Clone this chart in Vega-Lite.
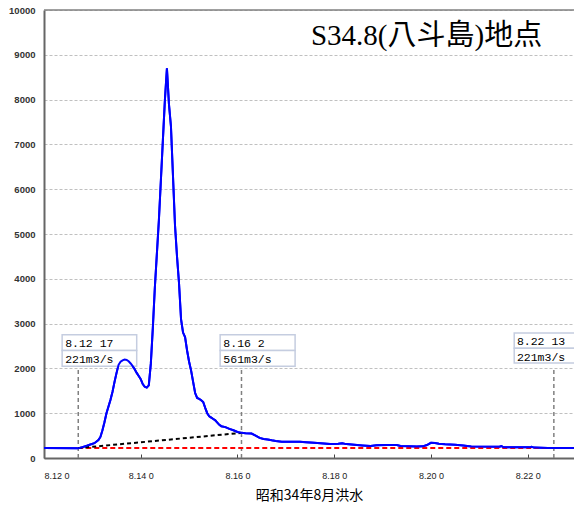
{
  "$schema": "https://vega.github.io/schema/vega-lite/v6.json",
  "width": 530,
  "height": 448,
  "autosize": {"type": "none"},
  "padding": {"left": 44, "top": 10, "right": 0, "bottom": 48},
  "background": "white",
  "config": {"view": {"stroke": null}, "font": "Liberation Sans"},
  "datasets": {
    "flow": [
      {"t": "1959-08-12T00:00", "q": 221},
      {"t": "1959-08-12T17:00", "q": 215},
      {"t": "1959-08-12T19:00", "q": 240},
      {"t": "1959-08-12T21:00", "q": 270},
      {"t": "1959-08-12T23:00", "q": 300},
      {"t": "1959-08-13T01:00", "q": 330},
      {"t": "1959-08-13T03:00", "q": 400},
      {"t": "1959-08-13T04:00", "q": 470},
      {"t": "1959-08-13T05:00", "q": 620},
      {"t": "1959-08-13T06:00", "q": 800},
      {"t": "1959-08-13T07:00", "q": 1000},
      {"t": "1959-08-13T08:00", "q": 1150},
      {"t": "1959-08-13T09:00", "q": 1300},
      {"t": "1959-08-13T10:00", "q": 1480},
      {"t": "1959-08-13T11:00", "q": 1700},
      {"t": "1959-08-13T12:00", "q": 1900},
      {"t": "1959-08-13T13:00", "q": 2080},
      {"t": "1959-08-13T14:00", "q": 2150},
      {"t": "1959-08-13T15:00", "q": 2180},
      {"t": "1959-08-13T16:00", "q": 2200},
      {"t": "1959-08-13T17:00", "q": 2190},
      {"t": "1959-08-13T18:00", "q": 2160},
      {"t": "1959-08-13T19:00", "q": 2110},
      {"t": "1959-08-13T20:00", "q": 2050},
      {"t": "1959-08-13T21:00", "q": 1980},
      {"t": "1959-08-13T22:00", "q": 1900},
      {"t": "1959-08-13T23:00", "q": 1830},
      {"t": "1959-08-14T00:00", "q": 1760},
      {"t": "1959-08-14T01:00", "q": 1650},
      {"t": "1959-08-14T02:00", "q": 1590},
      {"t": "1959-08-14T03:00", "q": 1570},
      {"t": "1959-08-14T04:00", "q": 1620},
      {"t": "1959-08-14T05:00", "q": 2100},
      {"t": "1959-08-14T06:00", "q": 2900},
      {"t": "1959-08-14T07:00", "q": 3800},
      {"t": "1959-08-14T08:00", "q": 4550},
      {"t": "1959-08-14T09:00", "q": 5300},
      {"t": "1959-08-14T10:00", "q": 6200},
      {"t": "1959-08-14T11:00", "q": 7100},
      {"t": "1959-08-14T12:00", "q": 8000},
      {"t": "1959-08-14T13:00", "q": 8700},
      {"t": "1959-08-14T14:00", "q": 7900},
      {"t": "1959-08-14T15:00", "q": 7400},
      {"t": "1959-08-14T16:00", "q": 6300},
      {"t": "1959-08-14T17:00", "q": 5200},
      {"t": "1959-08-14T18:00", "q": 4500},
      {"t": "1959-08-14T19:00", "q": 3900},
      {"t": "1959-08-14T20:00", "q": 3100},
      {"t": "1959-08-14T21:00", "q": 2800},
      {"t": "1959-08-14T22:00", "q": 2700},
      {"t": "1959-08-14T23:00", "q": 2400},
      {"t": "1959-08-15T00:00", "q": 2150},
      {"t": "1959-08-15T01:00", "q": 1950},
      {"t": "1959-08-15T02:00", "q": 1700},
      {"t": "1959-08-15T03:00", "q": 1450},
      {"t": "1959-08-15T04:00", "q": 1340},
      {"t": "1959-08-15T05:00", "q": 1320},
      {"t": "1959-08-15T06:00", "q": 1290},
      {"t": "1959-08-15T07:00", "q": 1250},
      {"t": "1959-08-15T08:00", "q": 1120},
      {"t": "1959-08-15T09:00", "q": 1000},
      {"t": "1959-08-15T10:00", "q": 930},
      {"t": "1959-08-15T11:00", "q": 900},
      {"t": "1959-08-15T12:00", "q": 870},
      {"t": "1959-08-15T13:00", "q": 840},
      {"t": "1959-08-15T14:00", "q": 790},
      {"t": "1959-08-15T15:00", "q": 740},
      {"t": "1959-08-15T16:00", "q": 710},
      {"t": "1959-08-15T18:00", "q": 690},
      {"t": "1959-08-15T20:00", "q": 650},
      {"t": "1959-08-15T22:00", "q": 620},
      {"t": "1959-08-16T00:00", "q": 580},
      {"t": "1959-08-16T02:00", "q": 561},
      {"t": "1959-08-16T04:00", "q": 550},
      {"t": "1959-08-16T07:00", "q": 545},
      {"t": "1959-08-16T09:00", "q": 500},
      {"t": "1959-08-16T11:00", "q": 450},
      {"t": "1959-08-16T13:00", "q": 425},
      {"t": "1959-08-16T15:00", "q": 415},
      {"t": "1959-08-16T17:00", "q": 395},
      {"t": "1959-08-16T19:00", "q": 380},
      {"t": "1959-08-16T22:00", "q": 365},
      {"t": "1959-08-17T07:00", "q": 360},
      {"t": "1959-08-17T10:00", "q": 350},
      {"t": "1959-08-17T14:00", "q": 340},
      {"t": "1959-08-17T22:00", "q": 315},
      {"t": "1959-08-18T02:00", "q": 320},
      {"t": "1959-08-18T04:00", "q": 330},
      {"t": "1959-08-18T06:00", "q": 310},
      {"t": "1959-08-18T10:00", "q": 295},
      {"t": "1959-08-18T14:00", "q": 280},
      {"t": "1959-08-18T18:00", "q": 268},
      {"t": "1959-08-18T21:00", "q": 285},
      {"t": "1959-08-19T02:00", "q": 290},
      {"t": "1959-08-19T07:00", "q": 288},
      {"t": "1959-08-19T09:00", "q": 268},
      {"t": "1959-08-19T17:00", "q": 255},
      {"t": "1959-08-19T20:00", "q": 260},
      {"t": "1959-08-19T22:00", "q": 290},
      {"t": "1959-08-20T00:00", "q": 340},
      {"t": "1959-08-20T02:00", "q": 335},
      {"t": "1959-08-20T04:00", "q": 320},
      {"t": "1959-08-20T07:00", "q": 305},
      {"t": "1959-08-20T12:00", "q": 295},
      {"t": "1959-08-20T16:00", "q": 278},
      {"t": "1959-08-20T20:00", "q": 255},
      {"t": "1959-08-21T10:00", "q": 253},
      {"t": "1959-08-21T11:00", "q": 268},
      {"t": "1959-08-21T12:00", "q": 240},
      {"t": "1959-08-22T01:00", "q": 238},
      {"t": "1959-08-22T02:00", "q": 252},
      {"t": "1959-08-22T03:00", "q": 232},
      {"t": "1959-08-22T10:00", "q": 222},
      {"t": "1959-08-22T13:00", "q": 221},
      {"t": "1959-08-22T23:00", "q": 221}
    ],
    "markers": [
      {"t": "1959-08-12T17:00"},
      {"t": "1959-08-16T02:00"},
      {"t": "1959-08-22T13:00"}
    ],
    "baseflow": [
      {"t": "1959-08-12T17:00", "q": 221},
      {"t": "1959-08-16T02:00", "q": 561}
    ],
    "baseline": [
      {"t": "1959-08-12T17:00", "q": 221},
      {"t": "1959-08-22T13:00", "q": 221}
    ],
    "boxes": [
      {"t0": "1959-08-12T09:00", "t1": "1959-08-13T22:00", "q0": 2400, "q1": 2750},
      {"t0": "1959-08-12T09:00", "t1": "1959-08-13T22:00", "q0": 2050, "q1": 2400},
      {"t0": "1959-08-15T15:24", "t1": "1959-08-17T04:36", "q0": 2400, "q1": 2750},
      {"t0": "1959-08-15T15:24", "t1": "1959-08-17T04:36", "q0": 2050, "q1": 2400},
      {"t0": "1959-08-21T17:20", "t1": "1959-08-23T12:00", "q0": 2450, "q1": 2790},
      {"t0": "1959-08-21T17:20", "t1": "1959-08-23T12:00", "q0": 2120, "q1": 2450}
    ],
    "labels": [
      {"t": "1959-08-12T10:30", "q": 2545, "text": "8.12 17"},
      {"t": "1959-08-12T10:30", "q": 2188, "text": "221m3/s"},
      {"t": "1959-08-15T17:00", "q": 2545, "text": "8.16 2"},
      {"t": "1959-08-15T17:00", "q": 2188, "text": "561m3/s"},
      {"t": "1959-08-21T18:40", "q": 2589, "text": "8.22 13"},
      {"t": "1959-08-21T18:40", "q": 2239, "text": "221m3/s"}
    ],
    "title": [
      {"t": "1959-08-22T07:12", "q": 9219, "text": "S34.8(八斗島)地点"}
    ]
  },
  "layer": [
    {
      "data": {"name": "flow"},
      "mark": {"type": "line", "color": "#0000ff", "strokeWidth": 2},
      "encoding": {
        "x": {
          "field": "t", "type": "temporal",
          "scale": {"domain": [{"year": 1959, "month": 8, "date": 12, "hours": 0}, {"year": 1959, "month": 8, "date": 22, "hours": 23}]},
          "axis": {
            "values": [
              {"year": 1959, "month": 8, "date": 12},
              {"year": 1959, "month": 8, "date": 14},
              {"year": 1959, "month": 8, "date": 16},
              {"year": 1959, "month": 8, "date": 18},
              {"year": 1959, "month": 8, "date": 20},
              {"year": 1959, "month": 8, "date": 22}
            ],
            "format": "%-m.%d %-H",
            "labelFontSize": 9,
            "labelColor": "#222",
            "labelPadding": 17,
            "tickSize": -4,
            "tickColor": "#444",
            "domainColor": "#666",
            "domainWidth": 2,
            "grid": false,
            "title": "昭和34年8月洪水",
            "titleFont": "Noto Sans CJK JP",
            "titleFontSize": 14,
            "titleFontWeight": "normal",
            "titleColor": "#000",
            "titlePadding": 8
          }
        },
        "y": {
          "field": "q", "type": "quantitative",
          "scale": {"domain": [0, 10000], "nice": false},
          "axis": {
            "values": [0, 1000, 2000, 3000, 4000, 5000, 6000, 7000, 8000, 9000, 10000],
            "format": "d",
            "title": null,
            "grid": true,
            "gridDash": [3, 2],
            "gridColor": "#c0c0c0",
            "ticks": false,
            "labelPadding": 9,
            "labelFontSize": 9.5,
            "labelFontWeight": "bold",
            "labelColor": "#333",
            "domainColor": "#666",
            "domainWidth": 2
          }
        }
      }
    },
    {
      "data": {"values": [{}]},
      "mark": {"type": "rule", "color": "#808080", "strokeWidth": 1.5},
      "encoding": {"y": {"datum": 10000}}
    },
    {
      "data": {"name": "boxes"},
      "mark": {"type": "rect", "fill": "white", "stroke": "#c5cde0", "strokeWidth": 1.5},
      "encoding": {
        "x": {"field": "t0", "type": "temporal"},
        "x2": {"field": "t1"},
        "y": {"field": "q0", "type": "quantitative"},
        "y2": {"field": "q1"}
      }
    },
    {
      "data": {"name": "labels"},
      "mark": {"type": "text", "align": "left", "baseline": "middle", "font": "Liberation Mono", "fontSize": 11.5, "color": "#000"},
      "encoding": {
        "x": {"field": "t", "type": "temporal"},
        "y": {"field": "q", "type": "quantitative"},
        "text": {"field": "text"}
      }
    },
    {
      "data": {"name": "markers"},
      "mark": {"type": "rule", "color": "#808080", "strokeWidth": 1.5, "strokeDash": [4, 3]},
      "encoding": {
        "x": {"field": "t", "type": "temporal"},
        "y": {"datum": 0},
        "y2": {"datum": 2000}
      }
    },
    {
      "data": {"name": "baseline"},
      "mark": {"type": "line", "color": "#ff0000", "strokeWidth": 2, "strokeDash": [5, 3]},
      "encoding": {
        "x": {"field": "t", "type": "temporal"},
        "y": {"field": "q", "type": "quantitative"}
      }
    },
    {
      "data": {"name": "baseflow"},
      "mark": {"type": "line", "color": "#000000", "strokeWidth": 2, "strokeDash": [4, 3]},
      "encoding": {
        "x": {"field": "t", "type": "temporal"},
        "y": {"field": "q", "type": "quantitative"}
      }
    },
    {
      "data": {"name": "flow"},
      "mark": {"type": "line", "color": "#0000ff", "strokeWidth": 2},
      "encoding": {
        "x": {"field": "t", "type": "temporal"},
        "y": {"field": "q", "type": "quantitative"}
      }
    },
    {
      "data": {"name": "title"},
      "mark": {"type": "text", "align": "right", "baseline": "alphabetic", "font": "Liberation Serif, Noto Sans CJK JP", "fontSize": 29, "color": "#000"},
      "encoding": {
        "x": {"field": "t", "type": "temporal"},
        "y": {"field": "q", "type": "quantitative"},
        "text": {"field": "text"}
      }
    }
  ]
}
